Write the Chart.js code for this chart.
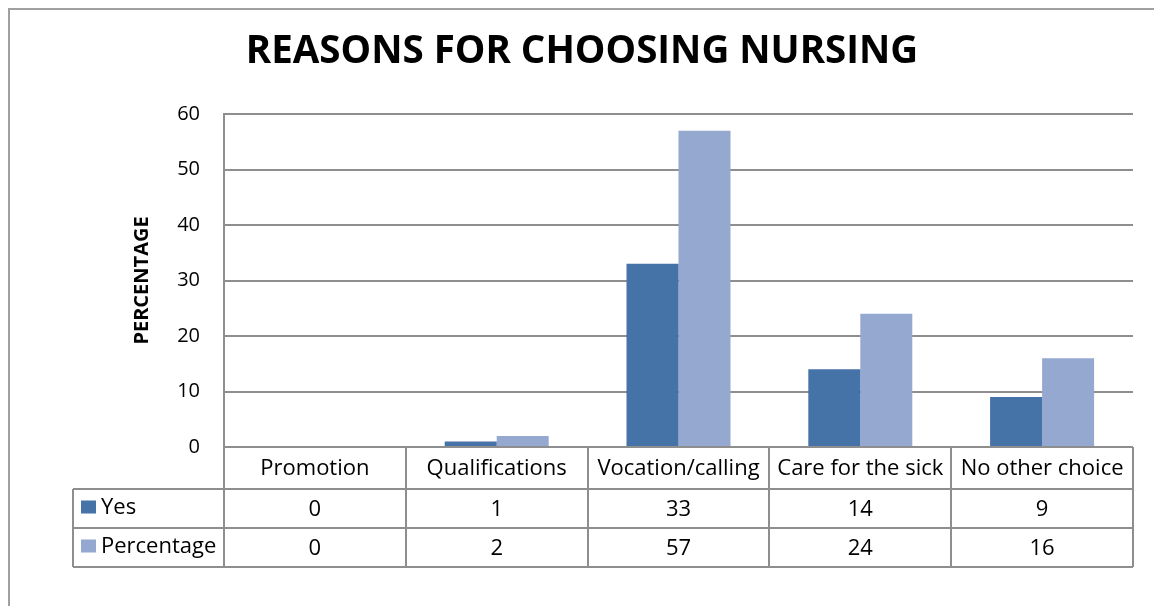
<!DOCTYPE html>
<html><head><meta charset="utf-8">
<script src="https://cdn.jsdelivr.net/npm/chart.js@4"></script>
<style>html,body{margin:0;padding:0;background:#fff;}#wrap{width:1154px;height:606px;position:relative;}</style>
</head><body><div id="wrap"><canvas id="c" width="1154" height="606"></canvas></div>
<script>
const chartTitle = 'REASONS FOR CHOOSING NURSING';
const categories = ['Promotion', 'Qualifications', 'Vocation/calling', 'Care for the sick', 'No other choice'];
const seriesNames = ['Yes', 'Percentage'];
const yesValues = [0, 1, 33, 14, 9];
const percentageValues = [0, 2, 57, 24, 16];
const yAxisTitle = 'PERCENTAGE';
const yMin = 0, yMax = 60, yStep = 10;
const seriesColors = ['#4572A7', '#94A8D0'];
const seriesValues = [yesValues, percentageValues];

const FONT = '"Open Sans", "Liberation Sans", sans-serif';
const LINE = '#8e8e8e';

const extras = {
  id: 'extras',
  afterDraw(chart) {
    const ctx = chart.ctx;
    const xs = chart.scales.x;
    const area = chart.chartArea;
    ctx.save();
    // outer frame
    ctx.strokeStyle = '#a0a0a0';
    ctx.lineWidth = 2;
    ctx.beginPath();
    ctx.moveTo(9, 606); ctx.lineTo(9, 9); ctx.lineTo(1154, 9);
    ctx.stroke();
    // title
    ctx.fillStyle = '#000';
    ctx.font = 'bold 38.5px ' + FONT;
    ctx.textAlign = 'center';
    ctx.textBaseline = 'middle';
    ctx.fillText(chartTitle, 582, 52);
    // data table
    const n = categories.length;
    const w = (area.right - area.left) / n;
    const top = area.bottom, r1 = top + 42, r2 = r1 + 39, r3 = r2 + 39;
    const x0 = 73;
    ctx.strokeStyle = LINE;
    ctx.lineWidth = 2;
    ctx.beginPath();
    ctx.moveTo(area.left, top); ctx.lineTo(area.right, top);
    [r1, r2, r3].forEach(y => { ctx.moveTo(x0, y); ctx.lineTo(area.right, y); });
    ctx.moveTo(x0, r1); ctx.lineTo(x0, r3);
    for (let k = 0; k <= n; k++) {
      const x = Math.round(area.left + k * w);
      ctx.moveTo(x, top); ctx.lineTo(x, r3);
    }
    ctx.stroke();
    ctx.font = '22px ' + FONT;
    ctx.fillStyle = '#000';
    ctx.textAlign = 'center';
    ctx.textBaseline = 'middle';
    categories.forEach((c, i) => {
      const cx = xs.getPixelForValue(i);
      ctx.fillText(c, cx, (top + r1) / 2 + 1);
      ctx.fillText(String(yesValues[i]), cx, (r1 + r2) / 2 + 1);
      ctx.fillText(String(percentageValues[i]), cx, (r2 + r3) / 2 + 1);
    });
    // row headers with legend keys
    [[r1, r2], [r2, r3]].forEach((rr, j) => {
      const cy = (rr[0] + rr[1]) / 2;
      ctx.fillStyle = seriesColors[j];
      ctx.fillRect(81, cy - 8, 15, 13);
      ctx.fillStyle = '#000';
      ctx.textAlign = 'left';
      ctx.fillText(seriesNames[j], 101, cy - 1);
    });
    ctx.restore();
  }
};

new Chart(document.getElementById('c'), {
  type: 'bar',
  data: {
    labels: categories,
    datasets: seriesNames.map((name, j) => ({
      label: name,
      data: seriesValues[j],
      backgroundColor: seriesColors[j],
      borderWidth: 0,
      barPercentage: 1.0,
      categoryPercentage: 0.572
    }))
  },
  options: {
    responsive: false,
    animation: false,
    devicePixelRatio: 1,
    layout: { padding: { top: 114, left: 0, right: 21, bottom: 159 } },
    plugins: { legend: { display: false }, tooltip: { enabled: false }, title: { display: false } },
    scales: {
      x: { display: false },
      y: {
        min: yMin, max: yMax,
        ticks: { stepSize: yStep, color: '#000', font: { family: FONT, size: 20 }, padding: 24 },
        grid: { color: LINE, lineWidth: 2, drawTicks: false },
        border: { display: true, color: LINE, width: 2 },
        title: { display: true, text: yAxisTitle, color: '#000', font: { family: FONT, size: 20, weight: 'bold' }, padding: { top: 130.5, bottom: 0 } },
        afterFit(s) { s.width = 224; }
      }
    }
  },
  plugins: [extras]
});
</script></body></html>
